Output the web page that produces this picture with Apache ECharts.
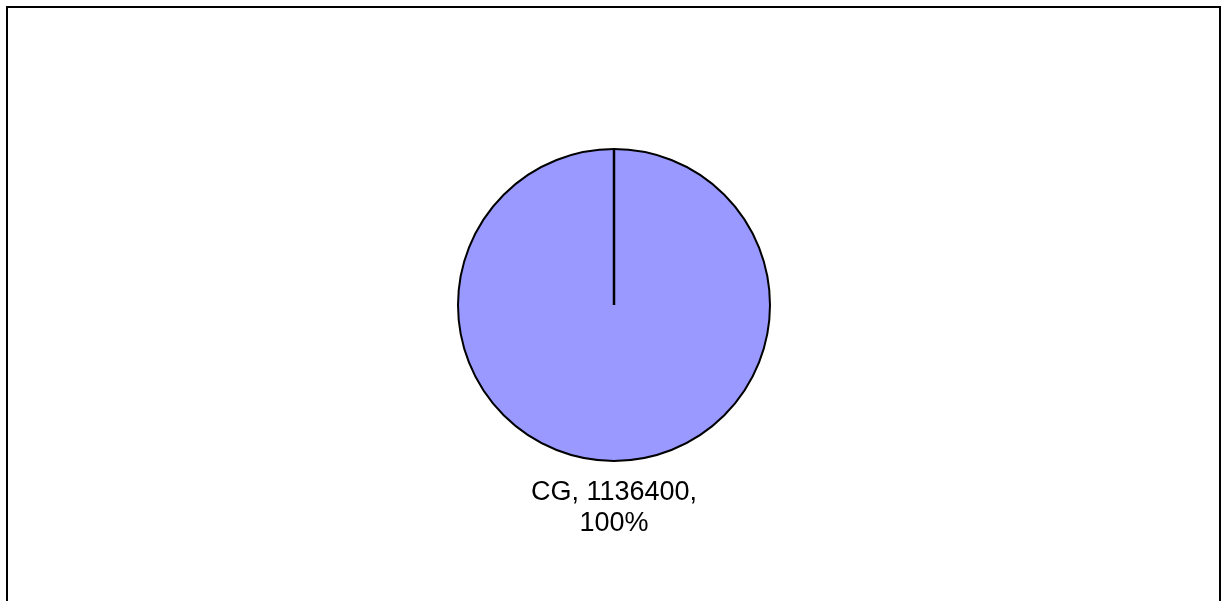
<!DOCTYPE html>
<html>
<head>
<meta charset="utf-8">
<script src="https://cdn.jsdelivr.net/npm/echarts@6/dist/echarts.min.js"></script>
<style>
html,body{margin:0;padding:0;background:#fff;overflow:hidden;}
#frame{position:absolute;left:6px;top:6px;width:1215px;height:610px;border:2px solid #000;box-sizing:border-box;}
#chart{position:absolute;left:0;top:0;width:1228px;height:601px;}
</style>
</head>
<body>
<div id="frame"></div>
<div id="chart"></div>
<script>
const categories = ['CG'];
const values = [1136400];

const chart = echarts.init(document.getElementById('chart'), null, {renderer: 'canvas'});
const cx = 614, cy = 305, r = 156;
chart.setOption({
  animation: false,
  backgroundColor: 'transparent',
  series: [{
    type: 'pie',
    center: [cx, cy],
    radius: [0, r],
    startAngle: 90,
    clockwise: true,
    data: categories.map((c, i) => ({name: c, value: values[i]})),
    itemStyle: {color: '#9999FF', borderColor: '#000', borderWidth: 2},
    label: {
      show: true,
      position: 'center',
      formatter: p => p.name + ', ' + p.value + ',\n' + Math.round(p.percent) + '%',
      fontFamily: 'Liberation Sans, Arial, sans-serif',
      fontSize: 27,
      lineHeight: 31,
      color: '#000',
      align: 'center',
      offset: [0, 203]
    },
    labelLine: {show: false},
    emphasis: {disabled: true}
  }],
  graphic: [{
    type: 'line',
    shape: {x1: cx, y1: cy, x2: cx, y2: cy - r},
    style: {stroke: '#000', lineWidth: 2.5},
    z: 10
  }]
});
</script>
</body>
</html>
